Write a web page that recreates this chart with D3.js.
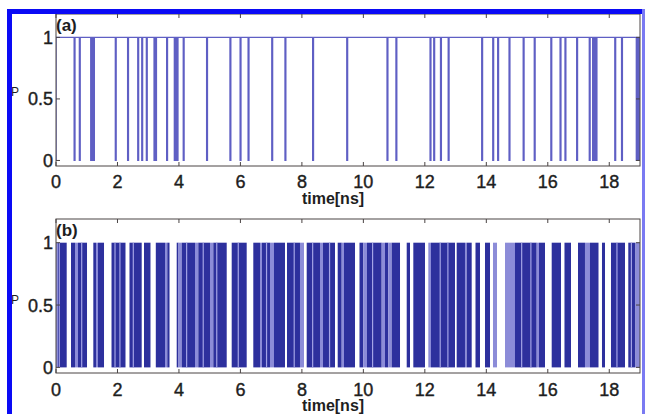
<!DOCTYPE html>
<html><head><meta charset="utf-8">
<script src="https://cdn.jsdelivr.net/npm/d3@7"></script>
<style>body{margin:0;background:#fff}svg{display:block}text{font-family:"Liberation Sans",Arial,sans-serif}</style>
</head><body><svg id="c" width="645" height="414"></svg>
<script>
// ---- data ----
const xTicks = [0, 2, 4, 6, 8, 10, 12, 14, 16, 18];
const yTicks = [0, 0.5, 1];
const yTickLabels = ["0", "0.5", "1"];
const xLabel = "time[ns]";
const panelLabels = ["(a)", "(b)"];
const yLabel = "P";
// panel (a): times (ns) where the signal briefly drops from 1 to 0
const dipsA = [0.59, 0.76, 1.13, 1.17, 1.22, 1.93, 2.33, 2.66, 2.79, 2.94, 3.19, 3.24, 3.60,
  3.85, 3.89, 3.94, 4.14, 4.90, 5.66, 5.99, 6.25, 7.02, 7.45, 8.35, 9.46, 10.77, 11.06,
  12.17, 12.29, 12.51, 12.76, 13.85, 14.21, 14.37, 14.74, 15.20, 15.56, 16.10, 16.40,
  16.56, 16.94, 17.35, 17.46, 17.51, 17.57, 18.18, 18.40, 18.88, 18.95];
const dipWidthA = 0.028;
// panel (b): segment edges (ns) and switching density of each segment (2 dense, 1 sparse, 0 quiet)
const edgesB = [0, 0.065, 0.348, 0.488, 0.618, 0.716, 1.009, 1.214, 1.301, 1.366, 1.562, 1.806,
  2.261, 2.391, 2.788, 2.863, 3.074, 3.247, 3.546, 3.621, 3.693, 3.927, 3.985, 4.090, 4.522,
  4.630, 5.010, 5.118, 5.554, 5.716, 6.204, 6.419, 6.637, 6.702, 6.962, 7.092, 7.450, 7.515,
  7.938, 8.068, 8.156, 8.589, 8.687, 9.077, 9.165, 9.295, 9.370, 9.728, 9.874, 9.998, 10.118,
  10.596, 10.704, 10.811, 10.922, 11.192, 11.410, 11.517, 11.625, 12.005, 12.113, 12.200,
  12.981, 13.036, 13.306, 13.362, 13.524, 13.648, 13.794, 13.957, 14.120, 14.217, 14.348,
  14.608, 14.933, 15.639, 15.714, 15.909, 16.127, 16.430, 16.543, 16.755, 16.983, 17.210,
  17.373, 17.650, 17.763, 17.861, 18.056, 18.512, 18.619, 18.853, 19.0];
const levelsB = [1, 2, 0, 2, 1, 2, 0, 2, 1, 2, 0, 2, 0, 2, 0, 2, 0, 2, 1, 2, 0, 2, 1, 2, 1, 2, 1,
  2, 0, 2, 0, 2, 1, 2, 1, 2, 0, 2, 1, 0, 2, 1, 2, 0, 2, 1, 2, 0, 2, 1, 2, 1, 2, 1, 2, 0, 2, 0, 2,
  0, 1, 2, 0, 2, 1, 2, 0, 2, 0, 2, 0, 1, 0, 1, 2, 1, 2, 0, 2, 0, 2, 0, 2, 1, 2, 0, 2, 0, 2, 0, 2, 1];
// panel (b): thin quieter moments inside dense switching blocks (ns)
const stripesB = [0.107, 0.836, 1.92, 2.08, 2.515, 4.25, 4.79, 5.23, 5.93, 6.85, 7.75, 8.35,
  8.90, 10.30, 12.50, 12.75, 15.15, 15.45, 18.25, 18.72];

// ---- drawing ----
const svg = d3.select("#c");
svg.append("rect").attr("width", 645).attr("height", 414).attr("fill", "#fff");

const left = 56, right = 640;
const x = d3.scaleLinear().domain([0, 19]).range([left, right]);
const axisCol = "#4a4444";
const txtCol = "#1e1e1e";

function panel(top, bottom, idx, tickBase, labelBase, pLabelBase, yLabBase) {
  const y = d3.scaleLinear().domain([-0.045, 1.19]).range([bottom, top]);
  const g = svg.append("g");
  const clipId = "clip" + idx;
  svg.append("clipPath").attr("id", clipId).append("rect")
    .attr("x", left).attr("y", top).attr("width", right - left).attr("height", bottom - top);
  const plot = g.append("g").attr("clip-path", `url(#${clipId})`);

  if (idx === 0) {
    const pts = [[0, 0], [0, 1]];
    dipsA.forEach(d => { pts.push([d, 1], [d, 0], [d + dipWidthA, 0], [d + dipWidthA, 1]); });
    pts.push([19, 1]);
    plot.append("path").attr("d", d3.line().x(d => x(d[0])).y(d => y(d[1]))(pts))
      .attr("fill", "none").attr("stroke", "#5f5fc4").attr("stroke-width", 1.3);
  } else {
    const segs = levelsB.map((l, i) => ({ a: edgesB[i], b: edgesB[i + 1], l }));
    plot.selectAll("rect.s").data(segs.filter(s => s.l > 0)).enter().append("rect")
      .attr("x", d => x(d.a)).attr("width", d => x(d.b) - x(d.a))
      .attr("y", y(1)).attr("height", y(0) - y(1))
      .attr("fill", d => d.l === 2 ? "#2d309d" : "#8c8cd8");
    plot.selectAll("line.st").data(stripesB).enter().append("line")
      .attr("x1", d => x(d)).attr("x2", d => x(d)).attr("y1", y(1)).attr("y2", y(0))
      .attr("stroke", "#a4a4e6").attr("stroke-width", 1.2);
  }

  // frame
  g.append("rect").attr("x", left).attr("y", top).attr("width", right - left).attr("height", bottom - top)
    .attr("fill", "none").attr("stroke", axisCol).attr("stroke-width", 1);
  // ticks
  g.selectAll("line.xb").data(xTicks).enter().append("line")
    .attr("x1", d => x(d)).attr("x2", d => x(d)).attr("y1", bottom).attr("y2", bottom - 4)
    .attr("stroke", axisCol);
  g.selectAll("line.xt").data(xTicks).enter().append("line")
    .attr("x1", d => x(d)).attr("x2", d => x(d)).attr("y1", top).attr("y2", top + 4)
    .attr("stroke", axisCol);
  g.selectAll("line.yl").data(yTicks).enter().append("line")
    .attr("x1", left).attr("x2", left + 4).attr("y1", d => y(d)).attr("y2", d => y(d))
    .attr("stroke", axisCol);
  g.selectAll("line.yr").data(yTicks).enter().append("line")
    .attr("x1", right).attr("x2", right - 4).attr("y1", d => y(d)).attr("y2", d => y(d))
    .attr("stroke", axisCol);
  // tick labels
  g.selectAll("text.xl").data(xTicks).enter().append("text")
    .attr("x", d => x(d)).attr("y", tickBase).attr("text-anchor", "middle")
    .attr("font-size", 18).attr("fill", txtCol).attr("stroke", txtCol).attr("stroke-width", 0.4)
    .text(d => d);
  g.selectAll("text.yl").data(yTicks).enter().append("text")
    .attr("x", left - 3).attr("y", d => y(d) + 6.5).attr("text-anchor", "end")
    .attr("font-size", 18).attr("fill", txtCol).attr("stroke", txtCol).attr("stroke-width", 0.4)
    .text((d, i) => yTickLabels[i]);
  g.append("text").attr("x", 333).attr("y", labelBase).attr("text-anchor", "middle")
    .attr("font-size", 16).attr("font-weight", "bold").attr("fill", txtCol).text(xLabel);
  g.append("text").attr("x", 56).attr("y", pLabelBase)
    .attr("font-size", 17).attr("font-weight", "bold").attr("fill", txtCol).text(panelLabels[idx]);
  g.append("text").attr("x", 11).attr("y", yLabBase)
    .attr("font-size", 12).attr("fill", txtCol).text(yLabel);
}

panel(14, 166, 0, 188, 204, 31, 96);
panel(219, 373, 1, 396, 411, 236, 304);

// outer blue frame
svg.append("rect").attr("x", 7).attr("y", 9).attr("width", 5).attr("height", 405).attr("fill", "#0a0af5");
svg.append("rect").attr("x", 7).attr("y", 9).attr("width", 638).attr("height", 5).attr("fill", "#0a0af5");
svg.append("rect").attr("x", 642).attr("y", 9).attr("width", 3).attr("height", 405).attr("fill", "#7a7af2");
</script></body></html>
